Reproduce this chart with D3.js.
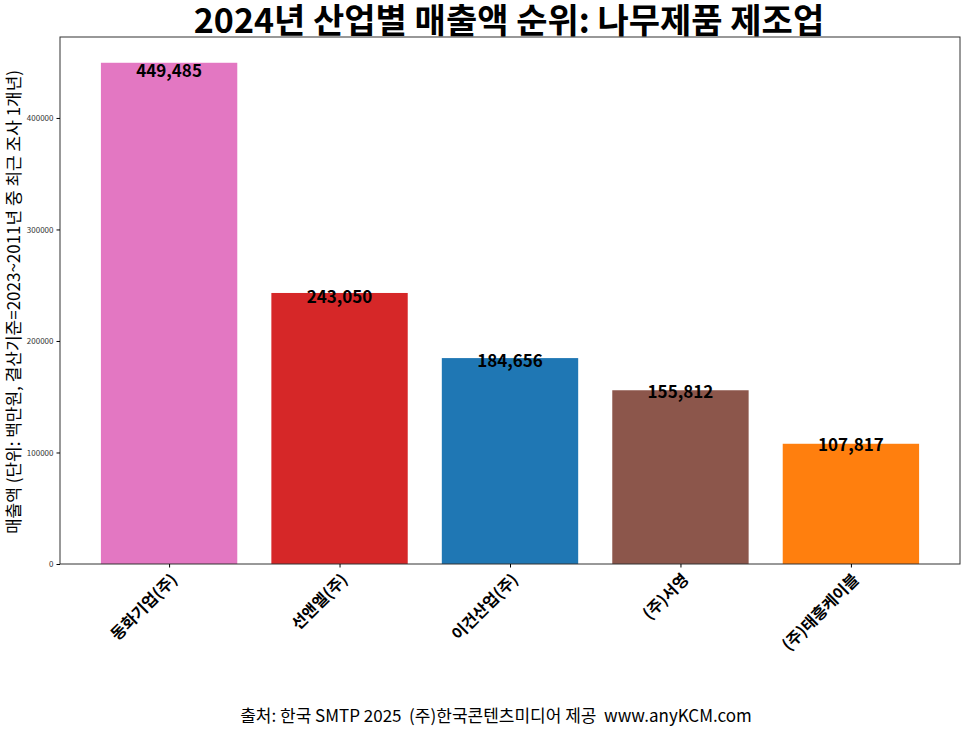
<!DOCTYPE html>
<html><head><meta charset="utf-8">
<script src="https://cdn.jsdelivr.net/npm/d3@7"></script>
<style>body{margin:0;background:#fff}text{font-family:"Noto Sans CJK KR","Noto Sans",sans-serif}</style>
</head><body>
<svg id="c" width="966" height="730"></svg>
<script>
const categories=["동화기업(주)","선앤엘(주)","이건산업(주)","(주)서영","(주)태흥케이블"];
const values=[449485,243050,184656,155812,107817];
const colors=["#e377c2","#d62728","#1f77b4","#8c564b","#ff7f0e"];
const yTicks=[0,100000,200000,300000,400000];
const svg=d3.select("#c");
const L=60,R=960,T=37,B=564;
const x=d3.scaleLinear().domain([-0.64,4.64]).range([L,R]);
const y=d3.scaleLinear().domain([0,472600]).range([B,T]);
const bw=x(0.8)-x(0);
svg.selectAll("rect.bar").data(values).join("rect").attr("class","bar")
 .attr("x",(d,i)=>x(i)-bw/2).attr("width",bw).attr("y",d=>y(d)).attr("height",d=>B-y(d))
 .attr("fill",(d,i)=>colors[i]);
svg.selectAll("text.v").data(values).join("text").attr("class","v")
 .attr("x",(d,i)=>x(i)).attr("y",d=>y(d*0.98)).attr("text-anchor","middle")
 .attr("dominant-baseline","middle").attr("font-size",17).attr("font-weight","bold")
 .text(d=>d3.format(",")(d));
svg.append("rect").attr("x",L).attr("y",T).attr("width",R-L).attr("height",B-T)
 .attr("fill","none").attr("stroke","#333").attr("stroke-width",1);
const ya=svg.append("g").attr("transform",`translate(${L},0)`)
 .call(d3.axisLeft(y).tickValues(yTicks).tickFormat(d3.format("d")).tickSize(3.5));
ya.select(".domain").remove();
ya.selectAll("text").attr("font-size",8).attr("fill","#333");
const xa=svg.append("g").attr("transform",`translate(0,${B})`)
 .call(d3.axisBottom(x).tickValues(d3.range(5)).tickFormat(i=>categories[i]).tickSize(3.5));
xa.select(".domain").remove();
xa.selectAll("text").attr("font-size",16).attr("font-weight","bold").attr("fill","#000")
 .attr("text-anchor","end").attr("dy",0).attr("transform","translate(4,12) rotate(-45)");
svg.append("text").attr("x",509).attr("y",33).attr("text-anchor","middle")
 .attr("font-size",34).attr("font-weight","bold").text("2024년 산업별 매출액 순위: 나무제품 제조업");
svg.append("text").attr("transform","translate(20,302) rotate(-90)").attr("text-anchor","middle")
 .attr("font-size",17).text("매출액 (단위: 백만원, 결산기준=2023~2011년 중 최근 조사 1개년)");
svg.append("text").attr("x",496).attr("y",722).attr("text-anchor","middle").attr("xml:space","preserve")
 .attr("font-size",17).text("출처: 한국 SMTP 2025  (주)한국콘텐츠미디어 제공  www.anyKCM.com");
</script></body></html>
